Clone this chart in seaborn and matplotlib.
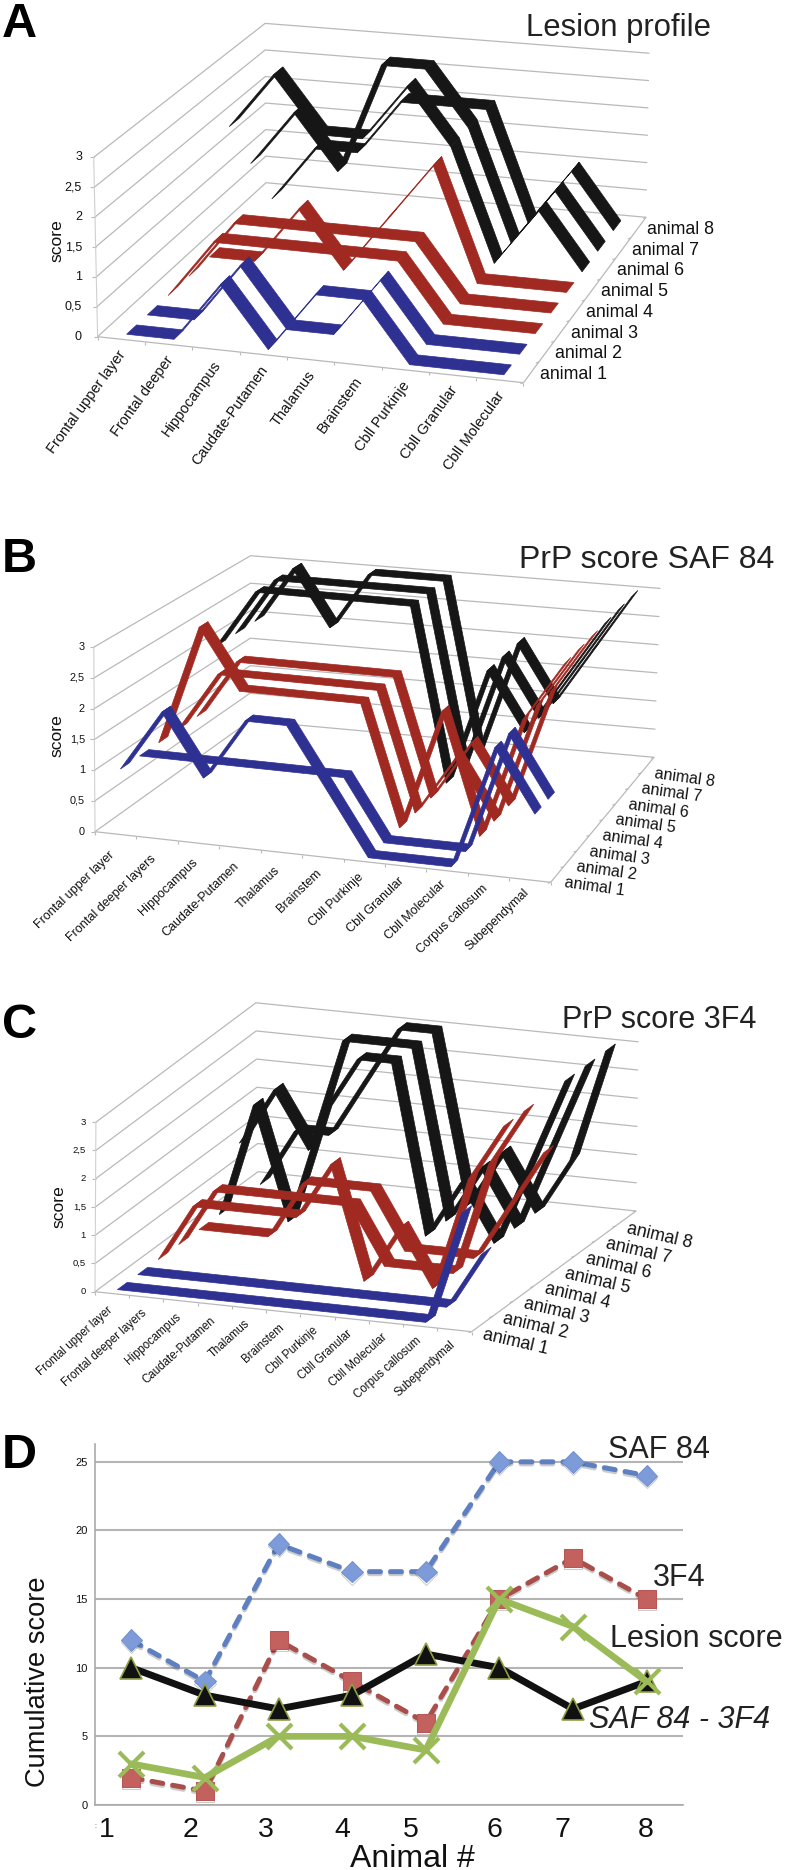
import numpy as np
import matplotlib
matplotlib.use('Agg')
import matplotlib.pyplot as plt
import matplotlib.patheffects as pe
import seaborn as sns

regions_a = ['Frontal upper layer', 'Frontal deeper', 'Hippocampus', 'Caudate-Putamen', 'Thalamus',
             'Brainstem', 'Cbll Purkinje', 'Cbll Granular', 'Cbll Molecular']
regions_bc = ['Frontal upper layer', 'Frontal deeper layers', 'Hippocampus', 'Caudate-Putamen', 'Thalamus',
              'Brainstem', 'Cbll Purkinje', 'Cbll Granular', 'Cbll Molecular', 'Corpus callosum', 'Subependymal']
animal_names = ['animal 1', 'animal 2', 'animal 3', 'animal 4', 'animal 5', 'animal 6', 'animal 7', 'animal 8']
score_ticks = ['0', '0,5', '1', '1,5', '2', '2,5', '3']

# one row per animal, one column per brain region
lesion_scores = [
    [0, 0, 1, 0, 1, 1, 0, 0, 0],
    [0, 0, 1, 0, 0, 1, 0, 0, 0],
    [0, 1, 1, 1, 1, 1, 0, 0, 0],
    [0, 1, 1, 1, 1, 1, 0, 0, 0],
    [0, 0, 1, 0, 1, 2, 0, 0, 0],
    [2, 3, 2, 2, 3, 2, 0, 1, 0],
    [1, 2, 1, 3, 3, 2, 0, 1, 0],
    [0, 1, 1, 2, 2, 2, 0, 1, 0],
]
saf84_scores = [
    [1, 2, 1, 2, 2, 1, 0, 0, 0, 2, 1],
    [1, 1, 1, 1, 1, 1, 0, 0, 0, 2, 1],
    [1, 3, 2, 2, 2, 2, 0, 2, 0, 2, 3],
    [1, 2, 2, 2, 2, 2, 0, 1, 0, 2, 3],
    [1, 2, 2, 2, 2, 2, 0, 1, 0, 2, 3],
    [2, 3, 3, 3, 3, 3, 0, 2, 1, 2, 3],
    [2, 3, 3, 3, 3, 3, 0, 2, 1, 2, 3],
    [2, 3, 2, 3, 3, 3, 0, 2, 1, 2, 3],
]
f4_scores = [
    [0, 0, 0, 0, 0, 0, 0, 0, 0, 0, 2],
    [0, 0, 0, 0, 0, 0, 0, 0, 0, 0, 1],
    [0, 1, 1, 1, 1, 2, 0, 1, 0, 2, 3],
    [0, 1, 1, 1, 1, 1, 0, 0, 0, 2, 3],
    [0, 0, 0, 1, 1, 1, 0, 0, 0, 1, 2],
    [0, 2, 0, 2, 3, 3, 0, 1, 0, 1.5, 3],
    [1, 2, 1, 3, 3, 3, 0, 1, 0, 1.5, 3],
    [0, 1, 1, 2, 3, 3, 0, 1, 0, 1, 3],
]

animal_numbers = [1, 2, 3, 4, 5, 6, 7, 8]
saf84_total = [12, 9, 19, 17, 17, 25, 25, 24]
f4_total = [2, 1, 12, 9, 6, 15, 18, 15]
lesion_total = [10, 8, 7, 8, 11, 10, 7, 9]
saf_minus_f4 = [3, 2, 5, 5, 4, 15, 13, 9]

BLUE, RED, BLACK = '#2f3192', '#a02a22', '#161616'
ribbon_colors = [BLUE, BLUE, RED, RED, RED, BLACK, BLACK, BLACK]
GRID = '#b9b9b9'
FONT = 'Liberation Sans'

sns.set_style('white')
plt.rcParams['font.family'] = [FONT, 'DejaVu Sans']

fig = plt.figure(figsize=(7.88, 18.70), dpi=100)
ax = fig.add_axes([0, 0, 1, 1], zorder=5)
ax.set_xlim(0, 788)
ax.set_ylim(1870, 0)
ax.axis('off')
ax.patch.set_alpha(0)


def project(geo, u, v, s):
    # floor position from the four corners, then lift along the local score direction
    fl, bl, fr, br = [np.array(c, float) for c in geo['floor']]
    ufl, ubl, ufr, ubr = [np.array(c, float) for c in geo['up']]
    floor = (1 - u) * ((1 - v) * fl + v * bl) + u * ((1 - v) * fr + v * br)
    up = (1 - u) * ((1 - v) * ufl + v * ubl) + u * ((1 - v) * ufr + v * ubr)
    return floor + s * up


def seg(geo, p, q, **kw):
    ax.plot([p[0], q[0]], [p[1], q[1]], solid_capstyle='butt', **kw)


def ribbon_panel(geo, scores, regions):
    n = len(regions)
    # walls
    for k in range(7):
        s = k * 0.5
        a, b, c = project(geo, 0, 0, s), project(geo, 0, 1, s), project(geo, 1, 1, s)
        ax.plot([a[0], b[0], c[0]], [a[1], b[1], c[1]], color=GRID, lw=0.9, zorder=1)
        t = project(geo, 0, 0, s)
        seg(geo, t, t + np.array([-4, 0]), color=GRID, lw=0.8, zorder=1)
        ax.text(geo['tick_x'], t[1], score_ticks[k], ha='right', va='center',
                fontsize=geo['tick_fs'], color='#111111')
    seg(geo, project(geo, 0, 0, 0), project(geo, 0, 0, 3), color='#d0d0d0', lw=0.8, zorder=1)
    seg(geo, project(geo, 0, 0, 0), project(geo, 1, 0, 0), color=GRID, lw=0.9, zorder=1)
    seg(geo, project(geo, 1, 0, 0), project(geo, 1, 1, 0), color=GRID, lw=0.9, zorder=1)
    for i in range(n + 1):
        p = project(geo, i / n, 0, 0)
        seg(geo, p, p + np.array([0, 3]), color=GRID, lw=0.8, zorder=1)
    for j in range(9):
        p = project(geo, 1, j / 8, 0)
        seg(geo, p, p + np.array([-3, 1]), color=GRID, lw=0.8, zorder=1)

    # ribbons, back animal first
    half = 0.03
    for j in range(7, -1, -1):
        v = (j + 0.5) / 8
        row = scores[j]
        for i in range(n - 1):
            u0, u1 = (i + 0.5) / n, (i + 1.5) / n
            pts = [project(geo, u0, v - half, row[i]), project(geo, u0, v + half, row[i]),
                   project(geo, u1, v + half, row[i + 1]), project(geo, u1, v - half, row[i + 1])]
            ax.fill([p[0] for p in pts], [p[1] for p in pts], color=ribbon_colors[j],
                    lw=0.5, zorder=2 + (8 - j) * 0.1)

    # text
    dy0, dy1 = geo['label_dy']
    for i, name in enumerate(regions):
        u = (i + 0.5) / n
        p = project(geo, u, 0, 0)
        dy = dy0 + (dy1 - dy0) * u
        ax.text(p[0] + geo['label_dx'], p[1] + dy, name, rotation=geo['label_rot'], rotation_mode='anchor',
                ha='right', va='center', fontsize=geo['label_fs'], color='#111111')
    for j, name in enumerate(animal_names):
        p = project(geo, 1, (j + 0.5) / 8, 0)
        dx, dy = geo['animal_off']
        ax.text(p[0] + dx, p[1] + dy, name, rotation=geo['animal_rot'], rotation_mode='anchor',
                ha='left', va='center', fontsize=geo['animal_fs'], color='#111111')
    ax.text(geo['score_pos'][0], geo['score_pos'][1], 'score', rotation=90, ha='center', va='center',
            fontsize=12.6, color='#111111')
    ax.text(geo['title_pos'][0], geo['title_pos'][1], geo['title'], ha='left', va='baseline',
            fontsize=geo['title_fs'], color='#222222')
    ax.text(2, geo['letter_y'], geo['letter'], ha='left', va='baseline', fontsize=35,
            fontweight='bold', color='black')


panel_a = dict(floor=[(97.6, 336.7), (266, 182.7), (523.5, 382.7), (646, 217.3)],
               up=[(-1.3, -59.8), (-0.3, -53.1), (1, -60), (1, -54.7)],
               tick_x=82, tick_fs=9, label_dy=(13, 13), label_dx=2, label_rot=54, label_fs=10.5,
               animal_off=(9, 2), animal_rot=0, animal_fs=12.8, score_pos=(57, 241),
               title='Lesion profile', title_pos=(526, 36), title_fs=22.3, letter='A', letter_y=37)
panel_b = dict(floor=[(95, 831.7), (250, 720.7), (550.7, 882.3), (654, 757.3)],
               up=[(-0.4, -61.5), (0.2, -55), (1.5, -62), (2, -56.3)],
               tick_x=85, tick_fs=7.8, label_dy=(20, 10), label_dx=-3, label_rot=44, label_fs=9,
               animal_off=(7, 8), animal_rot=-8, animal_fs=11.5, score_pos=(56.6, 736),
               title='PrP score SAF 84', title_pos=(518.6, 568), title_fs=23, letter='B', letter_y=571.7)
panel_c = dict(floor=[(95, 1291.7), (258, 1171.7), (471.7, 1331.7), (636, 1211)],
               up=[(0.3, -56.5), (-0.7, -56.3), (1, -56.5), (0.7, -56.4)],
               tick_x=86, tick_fs=6.8, label_dy=(15, 13), label_dx=-1, label_rot=42, label_fs=8.3,
               animal_off=(1, 10), animal_rot=-13, animal_fs=12.7, score_pos=(59, 1206.7),
               title='PrP score 3F4', title_pos=(561.7, 1028), title_fs=22, letter='C', letter_y=1038)

ribbon_panel(panel_a, lesion_scores, regions_a)
ribbon_panel(panel_b, saf84_scores, regions_bc)
ribbon_panel(panel_c, f4_scores, regions_bc)

# panel D: plain line chart
left, right, top, bottom = 94.5, 683.4, 1444, 1805
axd = fig.add_axes([left / 788, 1 - bottom / 1870, (right - left) / 788, (bottom - top) / 1870], zorder=1)
axd.set_xlim(0.5, 8.5)
axd.set_ylim(0, 26.3)

shadow = [pe.SimpleLineShadow(offset=(0, -1.5), alpha=0.2, shadow_color='k'), pe.Normal()]
blue_line = sns.lineplot(x=animal_numbers, y=saf84_total, ax=axd, color='#5f80c0', linewidth=3.6,
                         linestyle=(0, (2.2, 2)), dash_capstyle='round', marker='D', markersize=11,
                         markerfacecolor='#7d9bd8', markeredgecolor='#7391cf', errorbar=None).lines[-1]
red_line = sns.lineplot(x=animal_numbers, y=f4_total, ax=axd, color='#a84f4c', linewidth=3.6,
                        linestyle=(0, (2.2, 2)), dash_capstyle='round', marker='s', markersize=13,
                        markerfacecolor='#c2615d', markeredgecolor='#b85855', errorbar=None).lines[-1]
black_line = sns.lineplot(x=animal_numbers, y=lesion_total, ax=axd, color='#111111', linewidth=5,
                          marker='^', markersize=16, markerfacecolor='#111111', markeredgecolor='#8e9f45',
                          markeredgewidth=1.2, errorbar=None).lines[-1]
green_line = sns.lineplot(x=animal_numbers, y=saf_minus_f4, ax=axd, color='#9bbb59', linewidth=4.8,
                          marker='x', markersize=18, markeredgecolor='#9bbb59', markeredgewidth=3,
                          errorbar=None).lines[-1]
for line in [blue_line, red_line]:
    line.set_path_effects(shadow)
for line in [blue_line, red_line, black_line, green_line]:
    line.set_clip_on(False)

axd.set_yticks([0, 5, 10, 15, 20, 25])
axd.set_xticks(np.arange(0.5, 9, 1))
axd.set_xticklabels([])
axd.tick_params(axis='y', labelsize=8, length=4, width=1, color='#aaaaaa', pad=1, labelcolor='#111111')
axd.tick_params(axis='x', length=3, width=1, color='#aaaaaa', direction='out')
axd.grid(axis='y', color='#b4b4b4', lw=1.5)
axd.set_axisbelow(True)
axd.set_xlabel('')
axd.set_ylabel('')
sns.despine(ax=axd)
for side in ['left', 'bottom']:
    axd.spines[side].set_color('#aaaaaa')
    axd.spines[side].set_linewidth(1.2)

for num, x in zip(animal_numbers, [107, 191, 266, 342, 411, 494, 562, 646]):
    ax.text(x, 1837, str(num), ha='center', va='baseline', fontsize=20.5, color='#111111')
ax.text(95, 1828, ':', ha='center', va='baseline', fontsize=5, color='#444444')
ax.text(412, 1866.7, 'Animal #', ha='center', va='baseline', fontsize=23, color='#111111')
ax.text(38, 1682, 'Cumulative score', rotation=90, ha='center', va='center', fontsize=19.6, color='#111111')
ax.text(608, 1458, 'SAF 84', fontsize=22, color='#222222', va='baseline')
ax.text(653, 1586, '3F4', fontsize=22, color='#222222', va='baseline')
ax.text(610, 1647, 'Lesion score', fontsize=22, color='#222222', va='baseline')
ax.text(589, 1728, 'SAF 84 - 3F4', fontsize=22, style='italic', color='#222222', va='baseline')
ax.text(2, 1468, 'D', ha='left', va='baseline', fontsize=35, fontweight='bold', color='black')

fig.savefig('out.png', dpi=100)
